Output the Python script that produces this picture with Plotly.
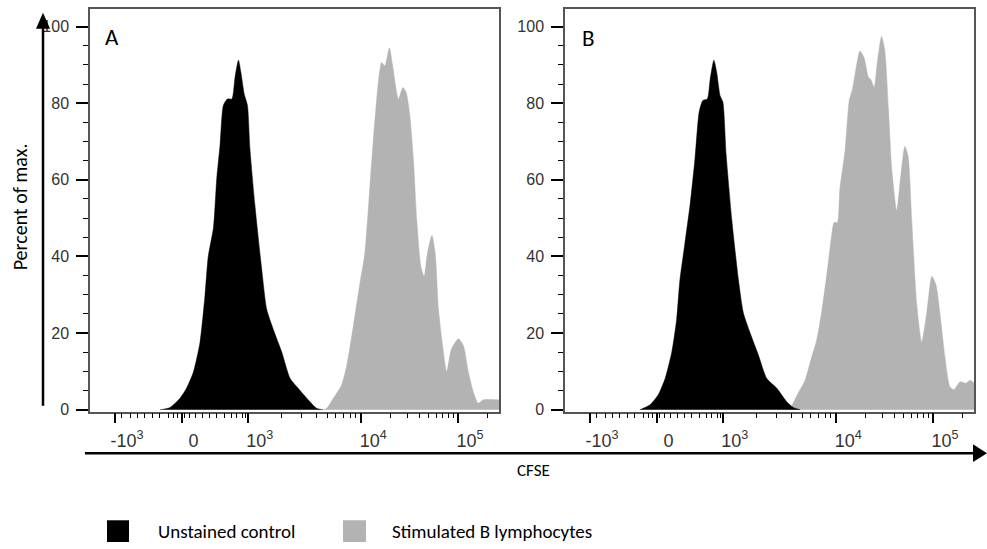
import plotly.graph_objects as go

W, H = 987, 549

# ---------------- data (x in display channels 0..1000, y in % of max) -------------
a_ctrl_x = [171, 196, 220, 236, 253, 269, 281, 289, 302, 310, 318, 326, 336, 347, 355, 363,
            369, 377, 385, 391, 403, 420, 432, 448, 469, 489, 509, 530, 554, 570]
a_ctrl_y = [0, 0.6, 3.0, 5.6, 9.9, 17.6, 29.6, 39.9, 47.6, 60.5, 69.1, 79.4, 81.1, 81.1, 87.1, 91.2,
            88.0, 82.4, 79.4, 68.2, 53.6, 36.5, 26.2, 21.0, 15.0, 8.2, 5.6, 3.0, 0.4, 0]

a_stim_x = [570, 579, 595, 615, 628, 644, 660, 672, 683, 693, 705, 713, 721, 732, 740, 754,
            765, 773, 782, 791, 799, 809, 817, 825, 836, 844, 852, 861, 872, 884, 901, 913,
            925, 937, 949, 962, 998, 1000]
a_stim_y = [0, 0.4, 3.0, 6.4, 11.6, 21.9, 33.0, 40.8, 56.2, 70.8, 85.4, 90.6, 89.7, 94.4, 89.7, 81.1,
            84.1, 82.8, 76.8, 64.8, 49.4, 37.3, 34.8, 40.8, 45.5, 40.8, 26.2, 17.6, 9.9, 15.9, 18.5, 16.7,
            9.9, 4.7, 1.7, 2.6, 2.6, 2.6]

b_ctrl_x = [183, 208, 228, 245, 261, 273, 281, 293, 306, 318, 328, 337, 348, 355, 364, 371,
            379, 386, 394, 408, 424, 436, 452, 473, 493, 518, 542, 558, 575]
b_ctrl_y = [0, 1.3, 3.9, 8.2, 15.0, 23.6, 33.9, 43.3, 53.6, 65.7, 77.7, 80.7, 81.1, 86.3, 91.2, 88.0,
            82.0, 80.3, 66.5, 49.4, 33.9, 25.3, 20.2, 14.2, 8.2, 5.6, 2.1, 0.6, 0]

b_stim_x = [538, 550, 570, 587, 603, 615, 628, 640, 652, 658, 666, 672, 685, 695, 703, 712,
            721, 731, 742, 747, 756, 764, 774, 782, 791, 799, 811, 821, 831, 839, 848, 860,
            872, 884, 897, 907, 917, 929, 941, 951, 966, 980, 990, 1000]
b_stim_y = [0, 0.4, 4.3, 7.7, 13.7, 18.0, 25.8, 35.2, 45.5, 48.9, 48.9, 57.5, 67.8, 80.7, 83.7, 89.3,
            93.6, 91.9, 86.7, 86.3, 84.1, 91.0, 97.4, 93.6, 78.1, 62.7, 51.9, 61.0, 68.7, 66.1, 48.9, 27.5,
            17.6, 24.9, 34.8, 32.6, 24.9, 13.7, 6.0, 5.2, 7.3, 6.9, 7.7, 7.0]

# axis ticks (channel positions of the biexponential CFSE scale)
x_major_pos = [61, 224, 386, 663, 900]
x_major_text = ["-10<sup>3</sup>", "0", "10<sup>3</sup>", "10<sup>4</sup>", "10<sup>5</sup>"]
x_minor_pos = [78, 98, 115, 134, 154, 171, 191, 205, 215, 232, 244, 257, 276, 293, 310, 330, 347,
               359, 372, 379, 469, 518, 553, 580, 601, 620, 636, 650, 734, 776, 805, 828, 847,
               863, 877, 889, 971]
y_major = [0, 20, 40, 60, 80, 100]
y_minor = [v for v in range(5, 100, 5) if v % 20 != 0]

series_names = ["Unstained control", "Stimulated B lymphocytes"]
CTRL, STIM = "#000000", "#b3b3b3"

# ---------------- figure -------------------------------------------------------------
def px(x):
    return x / W

def py(y):
    return 1 - y / H

fig = go.Figure()
panels = [("x", "y", a_stim_x, a_stim_y, a_ctrl_x, a_ctrl_y),
          ("x2", "y2", b_stim_x, b_stim_y, b_ctrl_x, b_ctrl_y)]
for xa, ya, sx, sy, cx, cy in panels:
    fig.add_trace(go.Scatter(x=sx, y=sy, xaxis=xa, yaxis=ya, mode="lines", fill="tozeroy",
                             fillcolor=STIM, line=dict(color=STIM, width=0.5, shape="spline", smoothing=0.6),
                             showlegend=False, hoverinfo="skip"))
    fig.add_trace(go.Scatter(x=cx, y=cy, xaxis=xa, yaxis=ya, mode="lines", fill="tozeroy",
                             fillcolor=CTRL, line=dict(color=CTRL, width=0.5, shape="spline", smoothing=0.6),
                             showlegend=False, hoverinfo="skip"))

xtickfont = dict(family="Liberation Sans Narrow, Arial Narrow, Liberation Sans, sans-serif",
                 size=18, color="#333333")
ytickfont = dict(family="Liberation Sans, Arial, sans-serif", size=16, color="#333333")
xcommon = dict(range=[0, 1000], showline=True, linecolor="#555555", linewidth=1.5, mirror=True,
               ticks="outside", tickmode="array", tickvals=x_major_pos, ticktext=x_major_text,
               ticklen=10, tickwidth=2, tickcolor="#000000", tickfont=xtickfont, ticklabelshift=12,
               ticklabelstandoff=2,
               minor=dict(tickmode="array", tickvals=x_minor_pos, ticklen=5, tickwidth=1,
                          tickcolor="#000000", ticks="outside"),
               showgrid=False, zeroline=False, fixedrange=True)
ycommon = dict(range=[-0.5, 104.6], showline=True, linecolor="#555555", linewidth=1.5, mirror=True,
               ticks="outside", tickmode="array", tickvals=y_major, ticklen=12, tickwidth=2,
               tickcolor="#000000", tickfont=ytickfont, ticklabelstandoff=4,
               minor=dict(tickmode="array", tickvals=y_minor, ticklen=5, tickwidth=1,
                          tickcolor="#000000", ticks="outside"),
               showgrid=False, zeroline=False, fixedrange=True)

ydom = [py(417), py(9)]
fig.update_layout(
    width=W, height=H, margin=dict(l=0, r=0, t=0, b=0),
    paper_bgcolor="white", plot_bgcolor="white",
    xaxis=dict(domain=[px(90), px(499)], anchor="y", **xcommon),
    yaxis=dict(domain=ydom, anchor="x", **ycommon),
    xaxis2=dict(domain=[px(565), px(974)], anchor="y2", **xcommon),
    yaxis2=dict(domain=ydom, anchor="x2", **ycommon),
)

# arrows (axis indicators)
shapes = [
    dict(type="line", xref="paper", yref="paper", x0=px(43), x1=px(43), y0=py(411), y1=py(24),
         line=dict(color="black", width=2.5)),
    dict(type="path", xref="paper", yref="paper",
         path=f"M {px(43)},{py(13)} L {px(36)},{py(29)} L {px(50)},{py(29)} Z",
         fillcolor="black", line=dict(color="black", width=0)),
    dict(type="line", xref="paper", yref="paper", x0=px(85), x1=px(978), y0=py(459), y1=py(459),
         line=dict(color="black", width=2.5)),
    dict(type="path", xref="paper", yref="paper",
         path=f"M {px(987)},{py(459)} L {px(973)},{py(450)} L {px(973)},{py(468)} Z",
         fillcolor="black", line=dict(color="black", width=0)),
    # legend swatches
    dict(type="rect", xref="paper", yref="paper", x0=px(107), x1=px(129), y0=py(527), y1=py(549),
         fillcolor=CTRL, line=dict(width=0)),
    dict(type="rect", xref="paper", yref="paper", x0=px(343), x1=px(366), y0=py(527), y1=py(549),
         fillcolor=STIM, line=dict(width=0)),
]
fig.update_layout(shapes=shapes)

lblfont = dict(family="Carlito, Lato, sans-serif", color="black")
annotations = [
    dict(text="A", x=px(103), y=py(37), xanchor="left", yanchor="middle",
         font=dict(size=23, **lblfont)),
    dict(text="B", x=px(580), y=py(38), xanchor="left", yanchor="middle",
         font=dict(size=23, **lblfont)),
    dict(text="Percent of max.", x=px(20), y=py(210), textangle=-90, xanchor="center", yanchor="middle",
         font=dict(size=20, **lblfont)),
    dict(text="CFSE", x=px(533), y=py(477), xanchor="center", yanchor="middle",
         font=dict(size=17, **lblfont)),
    dict(text=series_names[0], x=px(156), y=py(538), xanchor="left", yanchor="middle",
         font=dict(size=19, **lblfont)),
    dict(text=series_names[1], x=px(390), y=py(538), xanchor="left", yanchor="middle",
         font=dict(size=19, **lblfont)),
]
for a in annotations:
    a.update(xref="paper", yref="paper", showarrow=False)
fig.update_layout(annotations=annotations)

fig.write_html("out.html")
